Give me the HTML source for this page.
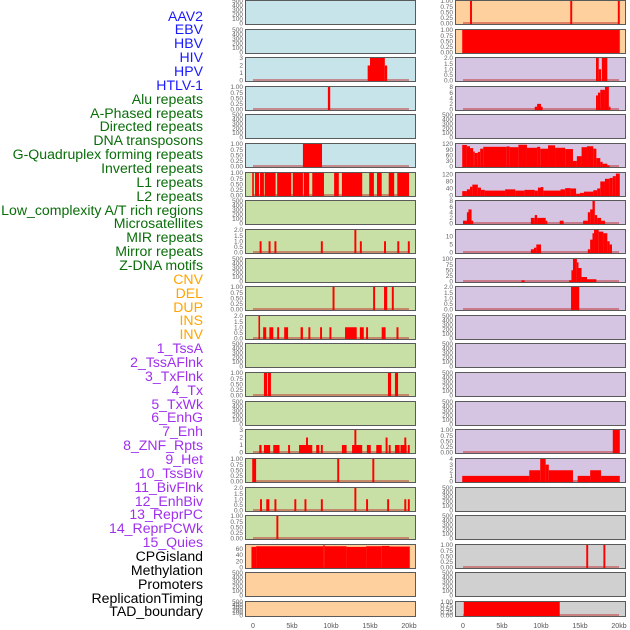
<!DOCTYPE html>
<html><head><meta charset="utf-8">
<style>
html,body{margin:0;padding:0;background:#fff;}
#wrap{position:relative;width:630px;height:630px;overflow:hidden;font-family:"Liberation Sans",sans-serif;}
.lbl{position:absolute;right:427px;font-size:14.1px;line-height:14px;white-space:nowrap;text-align:right;}
svg{position:absolute;left:0;top:0;}
</style></head>
<body>
<div id="wrap">
<svg id="chart" width="630" height="630"></svg>
</div>
<script>
// ---- data ----
const trackLabels = ["AAV2","EBV","HBV","HIV","HPV","HTLV-1","Alu repeats","A-Phased repeats","Directed repeats","DNA transposons","G-Quadruplex forming repeats","Inverted repeats","L1 repeats","L2 repeats","Low_complexity A/T rich regions","Microsatellites","MIR repeats","Mirror repeats","Z-DNA motifs","CNV","DEL","DUP","INS","INV","1_TssA","2_TssAFlnk","3_TxFlnk","4_Tx","5_TxWk","6_EnhG","7_Enh","8_ZNF_Rpts","9_Het","10_TssBiv","11_BivFlnk","12_EnhBiv","13_ReprPC","14_ReprPCWk","15_Quies","CPGisland","Methylation","Promoters","ReplicationTiming","TAD_boundary"];
const labelColors = ["#1a1aff","#1a1aff","#1a1aff","#1a1aff","#1a1aff","#1a1aff","#0a6e0a","#0a6e0a","#0a6e0a","#0a6e0a","#0a6e0a","#0a6e0a","#0a6e0a","#0a6e0a","#0a6e0a","#0a6e0a","#0a6e0a","#0a6e0a","#0a6e0a","#ffa500","#ffa500","#ffa500","#ffa500","#ffa500","#a030ee","#a030ee","#a030ee","#a030ee","#a030ee","#a030ee","#a030ee","#a030ee","#a030ee","#a030ee","#a030ee","#a030ee","#a030ee","#a030ee","#a030ee","#000","#000","#000","#000","#000"];
const xTicks = [0,5,10,15,20];
const xTickLabels = ["0","5kb","10kb","15kb","20kb"];

// bars: [startKb, endKb, value]
const hbvBars = [[14.7,15.0,2],[15.0,16.9,3],[16.9,17.2,2]];
const hivBars = [[9.6,9.9,1]];
const htlvBars = [[6.4,8.85,1]];
const aluBars = [[-0.1,0.1,1],[0.26,0.77,1],[0.9,1.4,1],[1.5,2.9,1],[3.1,4.9,1],[5.1,6.4,1],[6.5,7.2,1],[7.6,9.1,1],[10.4,11.0,1],[11.4,14.0,1],[14.9,15.5,1],[15.9,16.5,1],[17.4,18.1,1],[18.5,20.0,1]];
const directedBars = [[0.85,1.1,1],[2.0,2.25,1],[2.75,3.0,1],[8.7,8.95,1],[13.0,13.25,2],[13.7,13.95,1],[16.8,17.05,1],[18.5,18.75,1],[19.85,20.1,1]];
const gquadBars = [[10.2,10.45,1],[15.4,15.65,1],[16.8,17.2,1],[17.8,18.05,1]];
const invertedBars = [[0.7,0.9,2],[1.3,1.7,1],[2.1,2.6,1],[3.1,3.35,1],[4.0,4.5,1],[6.1,6.4,1],[7.1,7.35,1],[8.6,8.85,1],[9.8,10.05,1],[11.8,13.3,1],[13.7,14.2,1],[14.5,14.75,1],[16.5,17.0,1],[18.4,18.65,1]];
const l2Bars = [[1.4,1.8,1],[1.9,2.3,1],[17.3,17.7,1],[18.2,18.6,1]];
const microBars = [[0.8,1.1,1],[1.4,2.2,1],[2.6,3.4,1],[4.5,4.75,1],[5.9,7.6,1],[6.8,7.05,2],[8.1,8.5,1],[8.7,8.95,1],[11.4,12.0,1],[12.7,14.0,1],[13.0,13.25,3],[14.6,15.1,1],[15.8,16.5,1],[17.0,17.25,2],[17.4,17.65,1],[18.2,18.8,1],[18.9,19.7,1],[19.4,19.65,2],[19.85,20.1,1]];
const mirBars = [[-0.1,0.4,1],[10.8,11.05,1],[15.3,15.55,1]];
const mirrorBars = [[0.9,1.15,1],[1.7,2.1,1],[2.75,3.0,1],[5.3,5.55,1],[6.6,6.85,1],[8.7,8.95,1],[13.0,13.25,2],[14.5,14.75,1],[17.2,17.45,1],[19.4,19.65,1],[19.85,20.1,1]];
const zdnaBars = [[3.0,3.25,1]];
const cnvBars = [[-0.2,0.4,66],[0.4,9.0,68],[9.0,9.2,71],[9.2,12.0,68],[12.0,14.5,66],[14.5,16.5,68],[16.5,17.5,69],[17.5,20.1,67]];
const insBars = [[0.9,1.15,1],[13.75,14.0,1],[19.85,20.1,1]];
const invBars = [[-0.1,20.1,1]];
const tssaBars = [[17.05,17.4,2],[17.4,17.7,1],[17.8,18.5,2]];
const tssaflnkBars = [[9.2,9.5,1],[9.5,10.0,2],[10.0,10.2,1],[17.05,17.3,5],[17.3,17.6,6],[17.6,18.2,7],[18.2,18.7,8],[18.7,18.9,1]];
const txBars = [[-0.1,0.5,115],[0.5,0.9,108],[0.9,1.3,98],[1.3,1.5,80],[1.5,1.9,72],[1.9,2.2,78],[2.2,2.6,95],[2.6,5.6,105],[5.6,6.0,107],[6.0,7.1,103],[7.1,8.2,116],[8.2,9.5,100],[9.5,9.9,105],[9.9,10.9,95],[10.9,11.8,113],[11.8,13.1,100],[13.1,14.1,93],[14.1,14.6,30],[14.6,15.2,55],[15.2,15.9,103],[15.9,16.7,108],[16.7,17.1,95],[17.1,17.6,45],[17.6,17.9,25],[17.9,18.5,15],[18.5,18.8,6]];
const txwkBars = [[-0.1,0.5,25],[0.5,0.9,35],[0.9,1.2,50],[1.2,1.9,62],[1.9,2.3,45],[2.3,2.8,32],[2.8,5.4,28],[5.4,6.7,35],[6.7,7.9,28],[7.9,9.2,32],[9.2,9.6,28],[9.6,10.0,45],[10.0,10.3,48],[10.3,12.5,28],[12.5,13.1,35],[13.1,13.8,42],[13.8,14.5,40],[14.5,15.0,10],[15.0,15.5,15],[15.5,16.7,22],[16.7,17.2,30],[17.2,17.6,40],[17.6,18.2,80],[18.2,18.8,95],[18.8,19.2,100],[19.2,19.6,110],[19.6,20.1,125]];
const enhgBars = [[0.0,0.5,1],[0.5,0.7,4],[0.7,1.1,5],[1.1,1.3,1],[8.7,9.2,2],[9.2,9.5,3],[9.5,10.6,2],[10.6,10.8,1],[12.4,12.9,1],[15.4,16.0,1],[16.0,16.3,4],[16.3,16.6,5],[16.6,16.9,8],[16.9,17.2,3],[17.2,17.7,2],[17.7,18.2,1]];
const enhBars = [[8.7,9.1,2],[9.1,9.4,3],[9.4,10.0,5],[16.0,16.3,2],[16.3,16.6,8],[16.6,16.8,12],[16.8,17.4,14],[17.4,18.0,13],[18.0,18.5,12],[18.5,18.8,7],[18.8,19.1,5]];
const znfBars = [[7.5,7.9,5],[13.6,13.9,5],[13.9,14.1,50],[14.1,14.6,100],[14.6,14.8,85],[14.8,15.2,60],[15.2,15.9,20],[15.9,17.1,10]];
const hetBars = [[13.85,14.9,2]];
const reprpcwkBars = [[19.2,20.1,1]];
const quiesBars = [[-0.1,8.5,1],[8.5,9.9,2],[9.9,10.6,4],[10.6,11.0,3],[11.0,14.1,2],[14.7,16.3,1],[16.3,17.7,2],[17.7,20.1,1]];
const methylBars = [[15.8,16.05,1],[18.0,18.25,1]];
const tadBars = [[0.1,12.4,1]];
const emptyBars = [];

const tick500 = [0,100,200,300,400,500];
const tick1 = [0,0.25,0.5,0.75,1];
const tick2 = [0,0.5,1,1.5,2];
const tick3 = [0,1,2,3];

// [col,row,bg,ymax,ticks,decimals,bars]
const BLUE="#c8e4eb",GREEN="#c8e0a5",ORANGE="#fed09d",PURPLE="#d6c5e2",GRAY="#d0d0d0";
const panels = [
 [0,0,BLUE,500,tick500,0,emptyBars],
 [0,1,BLUE,500,tick500,0,emptyBars],
 [0,2,BLUE,3,tick3,0,hbvBars],
 [0,3,BLUE,1,tick1,2,hivBars],
 [0,4,BLUE,500,tick500,0,emptyBars],
 [0,5,BLUE,1,tick1,2,htlvBars],
 [0,6,GREEN,1,tick1,2,aluBars],
 [0,7,GREEN,500,tick500,0,emptyBars],
 [0,8,GREEN,2,tick2,1,directedBars],
 [0,9,GREEN,500,tick500,0,emptyBars],
 [0,10,GREEN,1,tick1,2,gquadBars],
 [0,11,GREEN,2,tick2,1,invertedBars],
 [0,12,GREEN,500,tick500,0,emptyBars],
 [0,13,GREEN,1,tick1,2,l2Bars],
 [0,14,GREEN,500,tick500,0,emptyBars],
 [0,15,GREEN,3,tick3,0,microBars],
 [0,16,GREEN,1,tick1,2,mirBars],
 [0,17,GREEN,2,tick2,1,mirrorBars],
 [0,18,GREEN,1,tick1,2,zdnaBars],
 [0,19,ORANGE,72,[0,20,40,60],0,cnvBars],
 [0,20,ORANGE,500,tick500,0,emptyBars],
 [0,21,ORANGE,500,tick500,0,emptyBars],
 [1,0,ORANGE,1,tick1,2,insBars],
 [1,1,ORANGE,1,tick1,2,invBars],
 [1,2,PURPLE,2,tick2,1,tssaBars],
 [1,3,PURPLE,8,[0,2,4,6,8],0,tssaflnkBars],
 [1,4,PURPLE,500,tick500,0,emptyBars],
 [1,5,PURPLE,120,[0,30,60,90,120],0,txBars],
 [1,6,PURPLE,128,[0,40,80,120],0,txwkBars],
 [1,7,PURPLE,8,[0,2,4,6,8],0,enhgBars],
 [1,8,PURPLE,14,[0,5,10],0,enhBars],
 [1,9,PURPLE,100,[0,25,50,75,100],0,znfBars],
 [1,10,PURPLE,2,tick2,1,hetBars],
 [1,11,PURPLE,500,tick500,0,emptyBars],
 [1,12,PURPLE,500,tick500,0,emptyBars],
 [1,13,PURPLE,500,tick500,0,emptyBars],
 [1,14,PURPLE,500,tick500,0,emptyBars],
 [1,15,PURPLE,1,tick1,2,reprpcwkBars],
 [1,16,PURPLE,4,[0,1,2,3,4],0,quiesBars],
 [1,17,GRAY,500,tick500,0,emptyBars],
 [1,18,GRAY,500,tick500,0,emptyBars],
 [1,19,GRAY,1,tick1,2,methylBars],
 [1,20,GRAY,500,tick500,0,emptyBars],
 [1,21,GRAY,1,tick1,2,tadBars]
];

// ---- drawing ----
const NS="http://www.w3.org/2000/svg";
const svg=document.getElementById('chart');
const wrap=document.getElementById('wrap');
const colLeft=[245,455];
const PW=171;
function xScale(col,kb){return colLeft[col]+8+kb*7.8;}
function rowTop(r){return Math.round(r*28.62);}
function rowH(r){return r===21?16:25;}
function mk(tag,attrs){const e=document.createElementNS(NS,tag);for(const k in attrs)e.setAttribute(k,attrs[k]);return e;}

trackLabels.forEach((t,i)=>{
  const d=document.createElement('div');
  d.className='lbl';
  d.style.top=(8.5+i*13.86)+'px';
  d.style.color=labelColors[i];
  d.textContent=t;
  
  
  wrap.appendChild(d);
});

panels.forEach((p,idx)=>{
  const [col,row,bg,ymax,ticks,dec,bars]=p;
  const top=rowTop(row),h=rowH(row),x0=colLeft[col];
  const y0=top+h-1.5,y1=top+1;
  const yS=v=>y0-(v/ymax)*(y0-y1);
  const g=mk('g',{});
  
  
  svg.appendChild(g);
  g.appendChild(mk('rect',{x:x0,y:top,width:PW,height:h,fill:bg}));
  if(bars.length){
    const base=mk('rect',{x:xScale(col,0),y:y0-1.5,width:xScale(col,20)-xScale(col,0),height:2,fill:'rgba(190,30,30,0.45)'});
    
    
    g.appendChild(base);
  }
  bars.forEach(b=>{
    const xa=xScale(col,b[0]),xb=xScale(col,b[1]);
    const r=mk('rect',{x:xa,y:yS(b[2]),width:Math.max(1.6,xb-xa),height:y0-yS(b[2])+1,fill:'#ff0000'});
    
    
    g.appendChild(r);
  });
  g.appendChild(mk('rect',{x:x0+0.5,y:top+0.5,width:PW-1,height:h-1,fill:'none',stroke:'#5a5a5a','stroke-width':1}));
  ticks.forEach(v=>{
    const t=mk('text',{x:x0-2,y:yS(v)+2.2,'font-size':6.5,'text-anchor':'end',fill:'#666','font-family':'Liberation Sans, sans-serif'});
    t.textContent=v.toFixed(dec);
    
    
    g.appendChild(t);
  });
});

[0,1].forEach(col=>{
  xTicks.forEach((v,i)=>{
    const t=mk('text',{x:xScale(col,v),y:628,'font-size':7,'text-anchor':'middle',fill:'#555','font-family':'Liberation Sans, sans-serif'});
    t.textContent=xTickLabels[i];
    
    
    svg.appendChild(t);
  });
});
</script>
</body></html>
